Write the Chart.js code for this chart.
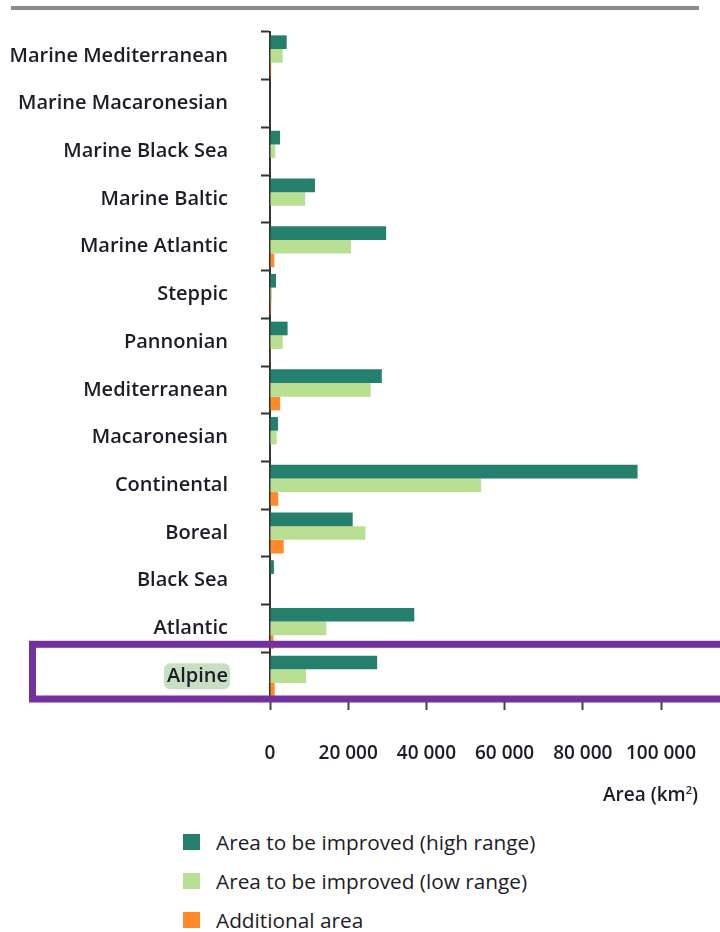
<!DOCTYPE html>
<html>
<head>
<meta charset="utf-8">
<script src="https://cdn.jsdelivr.net/npm/chart.js@4"></script>
<style>
  body { margin:0; background:#fff; font-family: 'Open Sans', Lato, sans-serif; color:#1c1c28; }
  #wrap { position:relative; width:720px; height:932px; overflow:hidden; }
  #topRule { position:absolute; left:11px; top:6px; width:688px; height:4px; background:#8c8c8c; }
  #cv { position:absolute; left:0; top:0; }
  #xTitle { position:absolute; right:22px; top:780px; font-size:19px; font-weight:600; line-height:20px; }
  #legend { position:absolute; left:183px; top:830px; }
  .lg { display:flex; align-items:center; height:24px; margin-bottom:15px; font-size:20.8px; }
  .lg span.sw { width:17px; height:16px; margin-right:16px; display:inline-block; }
</style>
</head>
<body>
<div id="wrap">
  <div id="topRule"></div>
  <canvas id="cv" width="720" height="790"></canvas>
  <div id="xTitle">Area (km<sup style="font-size:11px">2</sup>)</div>
  <div id="legend"></div>
</div>
<script>
// chart data, top to bottom
const regions = ['Marine Mediterranean', 'Marine Macaronesian', 'Marine Black Sea', 'Marine Baltic',
  'Marine Atlantic', 'Steppic', 'Pannonian', 'Mediterranean', 'Macaronesian', 'Continental',
  'Boreal', 'Black Sea', 'Atlantic', 'Alpine'];
const highRange  = [4270, 0, 2560, 11500, 29700, 1530, 4500, 28600, 2050, 94000, 21150, 1000, 36900, 27400];
const lowRange   = [3250, 0, 1350, 9000, 20700, 500, 3250, 25750, 1700, 54000, 24400, 0, 14400, 9200];
const additional = [300, 0, 0, 0, 1100, 300, 200, 2600, 0, 2100, 3500, 0, 900, 1200];
const xTicks = [0, 20000, 40000, 60000, 80000, 100000];
const highlighted = 'Alpine';

const labelFont = { family: 'Open Sans', size: 20, weight: '600' };
const tickFont  = { family: 'Open Sans', size: 19, weight: '600' };

// purple box + label highlight around the highlighted region
const highlightPlugin = {
  id: 'highlight',
  beforeDraw(chart) {
    const y = chart.scales.y, ctx = chart.ctx;
    const i = regions.indexOf(highlighted);
    const cy = y.getPixelForValue(i);
    ctx.save();
    ctx.font = `${labelFont.weight} ${labelFont.size}px ${labelFont.family}`;
    const w = ctx.measureText(highlighted).width;
    const right = y.right - 9 - 33 + 1;
    ctx.fillStyle = '#c7e0c2';
    ctx.beginPath();
    ctx.roundRect(right - w - 4, cy - 13, w + 5, 26, 6);
    ctx.fill();
    ctx.restore();
  },
  afterDraw(chart) {
    const y = chart.scales.y, ctx = chart.ctx;
    const i = regions.indexOf(highlighted);
    const half = (y.getPixelForValue(1) - y.getPixelForValue(0)) / 2;
    const cy = y.getPixelForValue(i);
    ctx.save();
    ctx.strokeStyle = '#7331a0';
    ctx.lineWidth = 7;
    ctx.strokeRect(32.5, cy - half - 8, 740, 2 * half + 7);
    ctx.restore();
  }
};

const chart = new Chart(document.getElementById('cv').getContext('2d'), {
  type: 'bar',
  data: {
    labels: regions,
    datasets: [
      { label: 'Area to be improved (high range)', data: highRange,  backgroundColor: '#247f6d' },
      { label: 'Area to be improved (low range)',  data: lowRange,   backgroundColor: '#b9df92' },
      { label: 'Additional area',                  data: additional, backgroundColor: '#ff8a27' },
    ]
  },
  options: {
    indexAxis: 'y', responsive: false, animation: false,
    layout: { padding: { top: 32, right: 59, left: 0, bottom: 0 } },
    datasets: { bar: { categoryPercentage: 0.86, barPercentage: 1.0 } },
    plugins: { legend: { display: false }, tooltip: { enabled: false } },
    scales: {
      y: {
        afterFit: s => { s.width = 270; s.paddingTop = 0; s.paddingBottom = 0; },
        grid: { drawOnChartArea: false, tickLength: 9, tickWidth: 2, tickColor: '#333' },
        border: { display: true, color: '#333', width: 2 },
        ticks: { color: '#1c1c28', font: labelFont, padding: 33 }
      },
      x: {
        min: 0, max: 100000,
        afterFit: s => { s.height = 90; s.paddingLeft = 0; s.paddingRight = 0; },
        afterBuildTicks: s => { s.ticks = xTicks.map(v => ({ value: v })); },
        grid: { drawOnChartArea: false, tickLength: 10, tickWidth: 2, tickColor: '#444' },
        border: { display: false },
        ticks: { color: '#1c1c28', font: tickFont, padding: 32, maxRotation: 0,
          callback: v => String(v).replace(/\B(?=(\d{3})+(?!\d))/g, ' ') }
      }
    }
  },
  plugins: [highlightPlugin]
});

// vertical legend under the chart
document.getElementById('legend').innerHTML = chart.data.datasets.map(d =>
  `<div class="lg"><span class="sw" style="background:${d.backgroundColor}"></span>${d.label}</div>`
).join('');
</script>
</body>
</html>
